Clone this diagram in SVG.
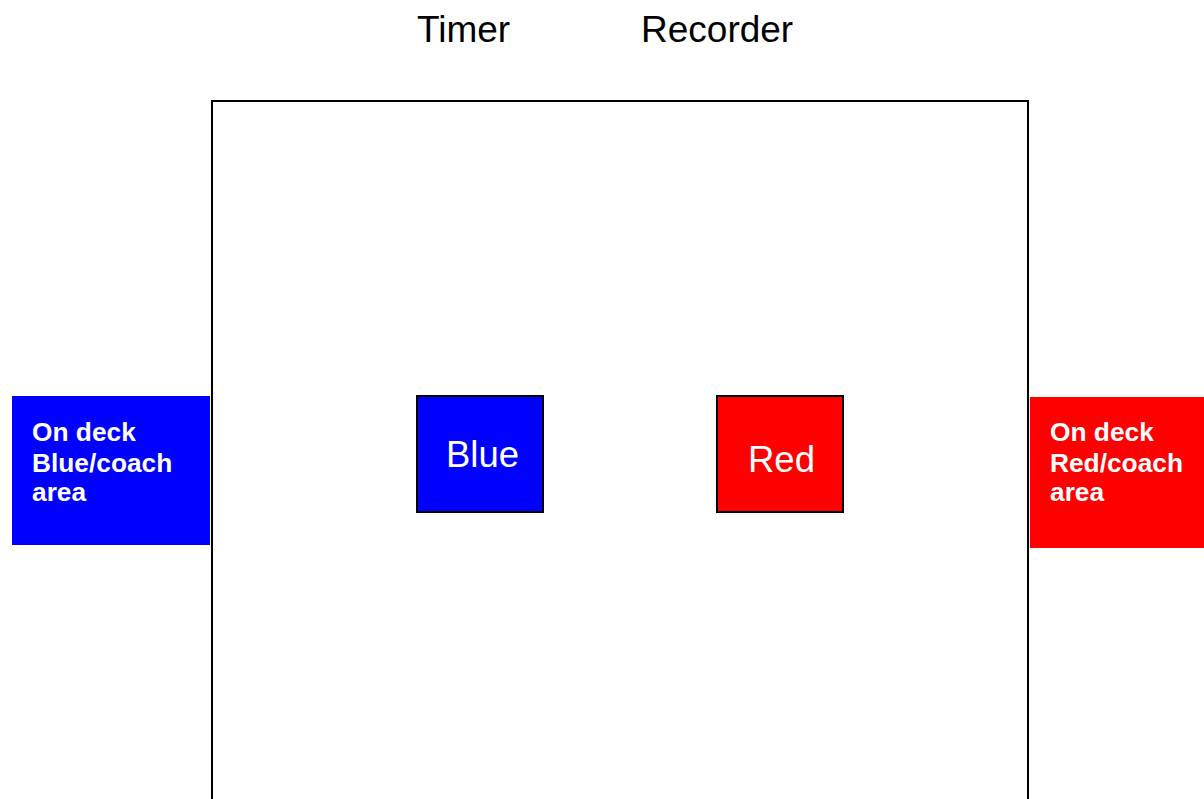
<svg xmlns="http://www.w3.org/2000/svg" width="1204" height="799" viewBox="0 0 1204 799">
<style>
.lbl{font-family:"Liberation Sans",Arial,sans-serif;}
.title{font-size:37px;fill:#000;}
.box{stroke:#000;stroke-width:2;}
.boxtxt{font-size:36.5px;fill:#fff;}
.area{font-size:26.3px;font-weight:bold;fill:#fff;}
</style>
<rect width="1204" height="799" fill="#fff"/>
<g id="pool">
<rect x="212" y="101" width="816" height="720" fill="#fff" stroke="#000" stroke-width="2"/>
</g>
<g id="timer"><text class="lbl title" x="417" y="42">Timer</text></g>
<g id="recorder"><text class="lbl title" x="641" y="42">Recorder</text></g>
<g id="blue-area">
<rect x="12" y="396" width="198" height="149" fill="#0000ff"/>
<text class="lbl area" x="32" y="441">On deck</text>
<text class="lbl area" x="32" y="471.5">Blue/coach</text>
<text class="lbl area" x="32" y="501">area</text>
</g>
<g id="red-area">
<rect x="1030" y="397" width="174" height="151" fill="#ff0000"/>
<text class="lbl area" x="1050" y="441">On deck</text>
<text class="lbl area" x="1050" y="471.5">Red/coach</text>
<text class="lbl area" x="1050" y="501">area</text>
</g>
<g id="blue">
<rect class="box" x="417" y="396" width="126" height="116" fill="#0000ff"/>
<text class="lbl boxtxt" x="446" y="467">Blue</text>
</g>
<g id="red">
<rect class="box" x="717" y="396" width="126" height="116" fill="#ff0000"/>
<text class="lbl boxtxt" x="748" y="472">Red</text>
</g>
<g id="connectors"></g>
</svg>
